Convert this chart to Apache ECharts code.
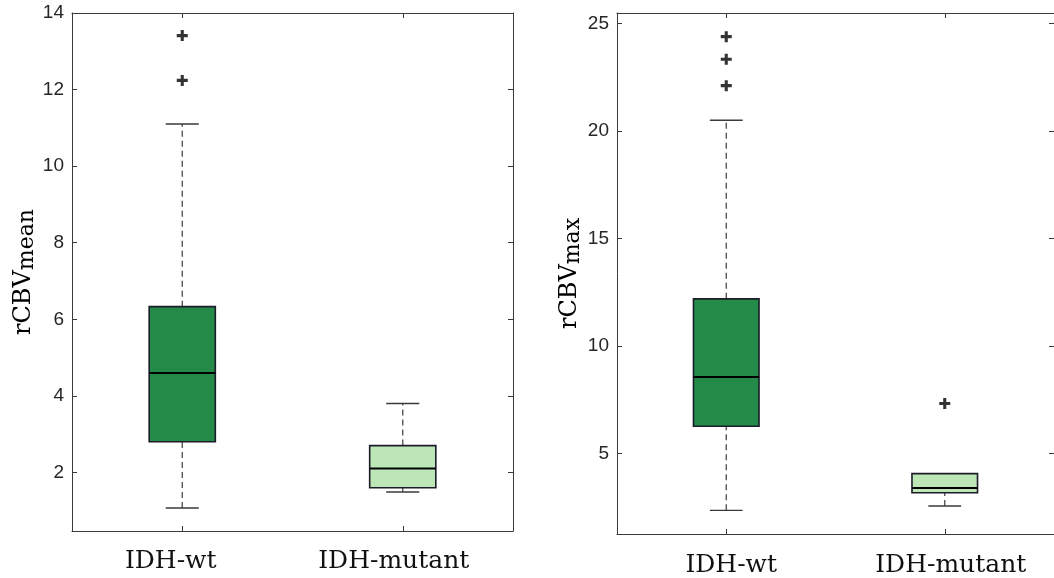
<!DOCTYPE html>
<html>
<head>
<meta charset="utf-8">
<script src="https://cdn.jsdelivr.net/npm/echarts@6/dist/echarts.min.js"></script>
<style>
  html, body { margin: 0; padding: 0; background: #fff; }
  #chart { width: 1054px; height: 578px; }
</style>
</head>
<body>
<div id="chart"></div>
<script>
// Groups on the horizontal axis
const categories = ['IDH-wt', 'IDH-mutant'];

// Box statistics per group: [lower whisker, Q1, median, Q3, upper whisker]
const meanStats = [
  [1.07, 2.80, 4.60, 6.33, 11.10],
  [1.49, 1.60, 2.10, 2.70, 3.80]
];
const maxStats = [
  [2.36, 6.27, 8.57, 12.20, 20.51],
  [2.56, 3.18, 3.40, 4.07, 4.07]
];

// Outliers: [group index, value]
const meanOutliers = [[0, 13.41], [0, 12.24]];
const maxOutliers = [[0, 24.40], [0, 23.35], [0, 22.12], [1, 7.33]];

// Tick values of the two value axes
const meanTicks = [2, 4, 6, 8, 10, 12, 14];
const maxTicks = [5, 10, 15, 20, 25];

const boxColors = ['#248a47', '#bde6b6'];
const axisColor = '#3a3a3a';
const serif = 'DejaVu Serif';
const sans = 'Liberation Sans';

const plusSymbol = 'path://M3.6,0H6.4V3.6H10V6.4H6.4V10H3.6V6.4H0V3.6H3.6Z';

function boxRows(stats) {
  return stats.map((s, i) => [i].concat(s));
}

function renderBox(params, api) {
  const x = api.value(0);
  const low = api.coord([x, api.value(1)]);
  const q1 = api.coord([x, api.value(2)]);
  const med = api.coord([x, api.value(3)]);
  const q3 = api.coord([x, api.value(4)]);
  const high = api.coord([x, api.value(5)]);
  const w = api.size([1, 0])[0] * 0.3;
  const cx = low[0];
  const whisker = { stroke: '#4a4a4a', lineWidth: 1.3, lineDash: [6, 4] };
  const cap = { stroke: '#3a3a3a', lineWidth: 1.4 };
  return {
    type: 'group',
    children: [
      { type: 'line', shape: { x1: cx, y1: q3[1], x2: cx, y2: high[1] }, style: whisker },
      { type: 'line', shape: { x1: cx, y1: low[1], x2: cx, y2: q1[1] }, style: whisker },
      { type: 'line', shape: { x1: cx - w / 4, y1: high[1], x2: cx + w / 4, y2: high[1] }, style: cap },
      { type: 'line', shape: { x1: cx - w / 4, y1: low[1], x2: cx + w / 4, y2: low[1] }, style: cap },
      {
        type: 'rect',
        shape: { x: cx - w / 2, y: q3[1], width: w, height: q1[1] - q3[1] },
        style: { fill: boxColors[params.dataIndex], stroke: '#1c1c2a', lineWidth: 1.6 }
      },
      { type: 'line', shape: { x1: cx - w / 2, y1: med[1], x2: cx + w / 2, y2: med[1] }, style: { stroke: '#000', lineWidth: 2 } }
    ]
  };
}

function catAxes(gridIndex, rich, margin) {
  const common = {
    type: 'category',
    data: categories,
    gridIndex: gridIndex,
    boundaryGap: true,
    axisLine: { show: true, onZero: false, lineStyle: { color: axisColor, width: 1 } },
    axisTick: { show: true, inside: true, alignWithLabel: true, length: 5, lineStyle: { color: axisColor } },
    splitLine: { show: false }
  };
  return [
    Object.assign({}, common, {
      position: 'bottom',
      axisLabel: {
        interval: 0,
        margin: margin,
        fontFamily: serif,
        fontSize: 25,
        color: '#111',
        formatter: (v, i) => '{c' + i + '|' + v + '}',
        rich: rich
      }
    }),
    Object.assign({}, common, { position: 'top', axisLabel: { show: false } })
  ];
}

function valAxes(gridIndex, min, max, ticks, name, sub, nameGap) {
  const common = {
    type: 'value',
    gridIndex: gridIndex,
    min: min,
    max: max,
    splitLine: { show: false },
    axisLine: { show: true, lineStyle: { color: axisColor, width: 1 } },
    axisTick: { show: true, inside: true, length: 5, customValues: ticks, lineStyle: { color: axisColor } }
  };
  return [
    Object.assign({}, common, {
      position: 'left',
      name: '{m|' + name + '}{s|' + sub + '}',
      nameLocation: 'middle',
      nameGap: nameGap,
      nameTextStyle: {
        rich: {
          m: { fontFamily: serif, fontSize: 24, color: '#000' },
          s: { fontFamily: serif, fontSize: 22, color: '#000', padding: [7, 0, 0, 0] }
        }
      },
      axisLabel: { customValues: ticks, margin: 8, fontFamily: sans, fontSize: 19, color: '#262626' }
    }),
    Object.assign({}, common, { position: 'right', axisLabel: { show: false } })
  ];
}

const chart = echarts.init(document.getElementById('chart'), null, { renderer: 'canvas' });

chart.setOption({
  backgroundColor: '#ffffff',
  animation: false,
  grid: [
    { left: 72, top: 13, width: 441, height: 518 },
    { left: 617, top: 13, width: 441, height: 521 }
  ],
  xAxis: [].concat(
    catAxes(0, { c0: { padding: [0, 23, 0, 0] }, c1: { padding: [0, 18, 0, 0] } }, 18),
    catAxes(1, { c0: { padding: [0, 0, 0, 10] }, c1: { padding: [0, 0, 0, 12] } }, 19)
  ),
  yAxis: [].concat(
    valAxes(0, 0.47, 14.0, meanTicks, 'rCBV', 'mean', 34),
    valAxes(1, 1.26, 25.5, maxTicks, 'rCBV', 'max', 31)
  ),
  series: [
    {
      type: 'custom',
      xAxisIndex: 0, yAxisIndex: 0,
      renderItem: renderBox,
      encode: { x: 0, y: [1, 2, 3, 4, 5] },
      data: boxRows(meanStats),
      z: 2
    },
    {
      type: 'scatter',
      xAxisIndex: 0, yAxisIndex: 0,
      symbol: plusSymbol,
      symbolSize: 11,
      itemStyle: { color: '#000' },
      data: meanOutliers,
      z: 3
    },
    {
      type: 'custom',
      xAxisIndex: 2, yAxisIndex: 2,
      renderItem: renderBox,
      encode: { x: 0, y: [1, 2, 3, 4, 5] },
      data: boxRows(maxStats),
      z: 2
    },
    {
      type: 'scatter',
      xAxisIndex: 2, yAxisIndex: 2,
      symbol: plusSymbol,
      symbolSize: 11,
      itemStyle: { color: '#000' },
      data: maxOutliers,
      z: 3
    }
  ]
});
</script>
</body>
</html>
